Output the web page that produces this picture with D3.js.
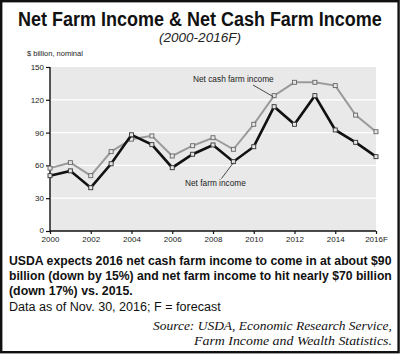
<!DOCTYPE html>
<html><head><meta charset="utf-8">
<script src="https://cdn.jsdelivr.net/npm/d3@7"></script>
<style>
html,body{margin:0;padding:0;background:#fff;}
svg{display:block;}
</style></head>
<body>
<script>
const years = [2000,2001,2002,2003,2004,2005,2006,2007,2008,2009,2010,2011,2012,2013,2014,2015,2016];
const netCashFarmIncome = [57.5,62.5,50.6,72.6,84.0,87.0,68.6,78.0,85.3,74.7,97.6,123.8,136.0,136.0,133.0,106.0,90.8];
const netFarmIncome = [50.6,55.0,39.6,61.5,88.0,79.0,57.9,70.2,78.7,63.4,77.1,113.7,97.6,123.8,92.4,81.1,68.0];
const yTicks = [0,30,60,90,120,150];
const xTickYears = [2000,2002,2004,2006,2008,2010,2012,2014,2016];
const xTickLabels = ["2000","2002","2004","2006","2008","2010","2012","2014","2016F"];

const SANS = "Liberation Sans, Arial, sans-serif";
const SERIF = "Liberation Serif, Times New Roman, serif";

const W = 400, H = 355;
const svg = d3.select("body").append("svg").attr("width", W).attr("height", H);

function fitText(sel, x0, y0, target, anchor){
  sel.attr("x",0).attr("y",0).attr("text-anchor","start");
  const w = sel.node().getComputedTextLength();
  const sx = target / w;
  let left = x0;
  if(anchor==="middle") left = x0 - target/2;
  if(anchor==="end") left = x0 - target;
  sel.attr("transform",`translate(${left},${y0}) scale(${sx},1)`);
  return sel;
}

// frame
svg.append("rect").attr("x",1.2).attr("y",1.2).attr("width",W-2.6).attr("height",351)
  .attr("fill","#fff").attr("stroke","#111").attr("stroke-width",2.4);

// title
fitText(svg.append("text").style("font-family",SANS).attr("font-size",20).attr("font-weight","bold")
  .attr("fill","#111").text("Net Farm Income & Net Cash Farm Income"), 200, 26, 364, "middle");
svg.append("text").attr("x",200).attr("y",42).attr("text-anchor","middle").style("font-family",SANS)
  .attr("font-size",13.5).attr("font-style","italic").attr("fill","#222").text("(2000-2016F)");
svg.append("text").attr("x",27).attr("y",56).style("font-family",SANS).attr("font-size",7.5).attr("fill","#222").text("$ billion, nominal");

const x = d3.scaleLinear().domain([2000,2016]).range([50,376]);
const y = d3.scaleLinear().domain([0,150]).range([231,67]);

svg.append("rect").attr("x",x(2000)).attr("y",y(150)).attr("width",x(2016)-x(2000)).attr("height",y(0)-y(150)).attr("fill","#e9e9e9");
svg.append("g").selectAll("line").data(yTicks.filter(d=>d>0 && d<150)).join("line")
  .attr("x1",x(2000)).attr("x2",x(2016)).attr("y1",d=>y(d)).attr("y2",d=>y(d))
  .attr("stroke","#fff").attr("stroke-width",1.2);

const yAxis = svg.append("g").attr("transform",`translate(${x(2000)},0)`)
  .call(d3.axisLeft(y).tickValues(yTicks).tickSize(4).tickPadding(2));
const xAxis = svg.append("g").attr("transform",`translate(0,${y(0)})`)
  .call(d3.axisBottom(x).tickValues(xTickYears).tickFormat((d,i)=>xTickLabels[i]).tickSize(3).tickPadding(2.5));
[yAxis,xAxis].forEach(g=>{
  g.select(".domain").attr("stroke","#111").attr("stroke-width",1.4);
  g.selectAll(".tick line").attr("stroke","#111").attr("stroke-width",1.2);
  g.selectAll(".tick text").attr("font-size",8).attr("fill","#1a1a1a").style("font-family",SANS);
});
yAxis.selectAll(".tick text").filter(d=>d===0).attr("dy","0.2em");
yAxis.select(".domain").attr("d",`M-0,${y(150)}V${y(0)}`);
xAxis.select(".domain").attr("d",`M${x(2000)},0H${x(2016)}`);

const line = d3.line().x((d,i)=>x(years[i])).y(d=>y(d));
function series(vals, color, w, mk){
  svg.append("path").datum(vals).attr("d",line).attr("fill","none").attr("stroke",color).attr("stroke-width",w).attr("stroke-linejoin","miter");
  svg.append("g").selectAll("rect").data(vals).join("rect")
    .attr("x",(d,i)=>x(years[i])-2).attr("y",d=>y(d)-2).attr("width",4).attr("height",4)
    .attr("fill","#e6e6e6").attr("stroke",mk).attr("stroke-width",0.9);
}
series(netCashFarmIncome,"#9a9a9a",2,"#666");
series(netFarmIncome,"#111",2.6,"#333");

svg.append("text").attr("x",193).attr("y",82).style("font-family",SANS).attr("font-size",8.3).attr("fill","#222").text("Net cash farm income");
svg.append("line").attr("x1",253).attr("y1",85).attr("x2",x(2011)-1).attr("y2",y(netCashFarmIncome[11])+1).attr("stroke","#222").attr("stroke-width",0.8);
svg.append("text").attr("x",185).attr("y",186).style("font-family",SANS).attr("font-size",8.3).attr("fill","#222").text("Net farm income");
svg.append("line").attr("x1",221.5).attr("y1",178.5).attr("x2",x(2009)).attr("y2",y(netFarmIncome[9])+1).attr("stroke","#222").attr("stroke-width",0.8);

const bold = [
  ["USDA expects 2016 net cash farm income to come in at about $90",265,383],
  ["billion (down by 15%) and net farm income to hit nearly $70 billion",280,383],
  ["(down 17%) vs. 2015.",295,124]
];
bold.forEach(([t,yy,len])=>{
  fitText(svg.append("text").style("font-family",SANS).attr("font-size",13.5).attr("font-weight","bold")
    .attr("fill","#111").text(t), 9, yy, len, "start");
});
fitText(svg.append("text").style("font-family",SANS).attr("font-size",13.5).attr("fill","#111")
  .text("Data as of Nov. 30, 2016; F = forecast"), 9, 311, 212, "start");
fitText(svg.append("text").attr("font-size",13.5).attr("font-style","italic")
  .style("font-family",SERIF).attr("fill","#111").text("Source: USDA, Economic Research Service,"), 392, 330, 239, "end");
fitText(svg.append("text").attr("font-size",13.5).attr("font-style","italic")
  .style("font-family",SERIF).attr("fill","#111").text("Farm Income and Wealth Statistics."), 392, 345, 198, "end");
</script>
</body></html>
